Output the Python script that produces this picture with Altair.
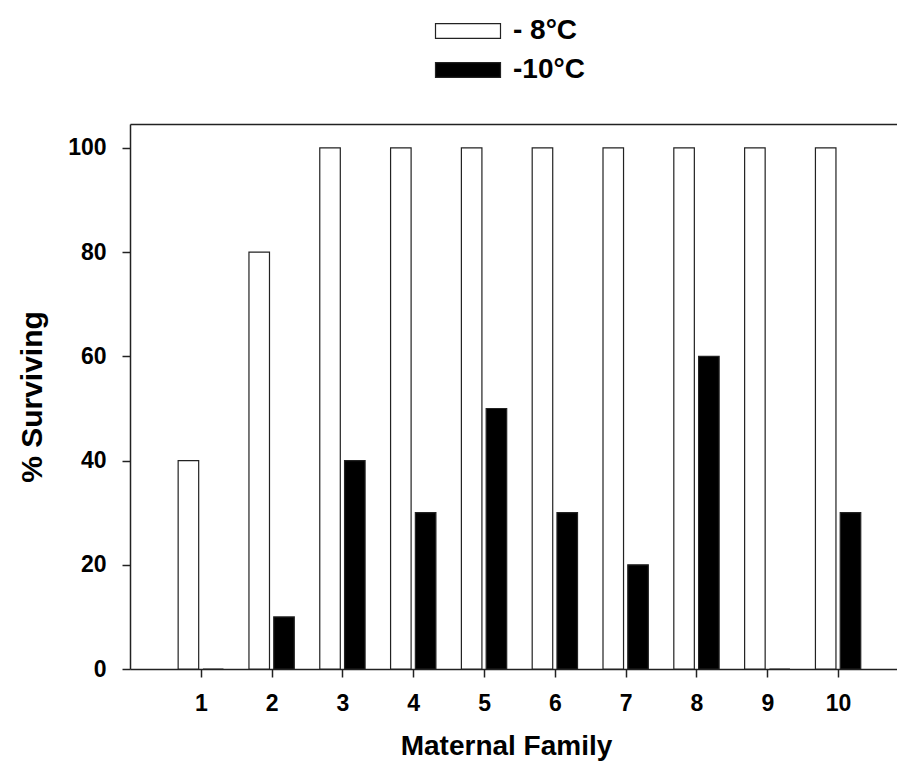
import altair as alt
import pandas as pd

families = [1, 2, 3, 4, 5, 6, 7, 8, 9, 10]
series_names = ["- 8°C", "-10°C"]
surv_minus8 = [40, 80, 100, 100, 100, 100, 100, 100, 100, 100]
surv_minus10 = [0, 10, 40, 30, 50, 30, 20, 60, 0, 30]
y_ticks = [0, 20, 40, 60, 80, 100]

rows = []
for f, a, b in zip(families, surv_minus8, surv_minus10):
    rows.append({"family": f, "series": series_names[0], "value": a})
    rows.append({"family": f, "series": series_names[1], "value": b})
df = pd.DataFrame(rows)

FONT = "Liberation Sans"
xscale = alt.Scale(domain=[0, 10.832], nice=False, zero=False)
yscale = alt.Scale(domain=[0, 104.6], nice=False)

base = alt.Chart(df).transform_calculate(
    x0=f"datum.series == '{series_names[0]}' ? datum.family - 0.32 : datum.family + 0.03",
    x1=f"datum.series == '{series_names[0]}' ? datum.family - 0.03 : datum.family + 0.32",
)

bars = base.mark_bar(stroke="#222", strokeWidth=1.2).encode(
    x=alt.X("x0:Q", scale=xscale,
            axis=alt.Axis(values=families, format="d", title="Maternal Family",
                          titlePadding=17, labelPadding=15, titleX=376)),
    x2="x1:Q",
    y=alt.Y("value:Q", scale=yscale,
            axis=alt.Axis(values=y_ticks, format="d", title="% Surviving",
                          titlePadding=20, labelPadding=16, titleFontSize=30)),
    y2=alt.datum(0),
    fill=alt.Fill("series:N",
                  scale=alt.Scale(domain=series_names, range=["white", "black"]),
                  legend=alt.Legend(title=None, orient="none", legendX=321, legendY=-110,
                                    direction="vertical",
                                    symbolType="M-2,-0.46H2V0.46H-2Z",
                                    symbolSize=1056,
                                    symbolStrokeColor="#222", symbolStrokeWidth=1.2,
                                    labelFontSize=28, labelFont=FONT, labelFontWeight="bold",
                                    labelColor="black", labelOffset=28, rowPadding=8)),
)

top_line = base.mark_bar(opacity=0).encode(
    x=alt.X("x0:Q", scale=xscale,
            axis=alt.Axis(orient="top", labels=False, ticks=False, title=None, domain=True)),
    x2="x1:Q",
    y=alt.Y("value:Q", scale=yscale),
    y2=alt.datum(0),
)

chart = alt.layer(bars, top_line).resolve_axis(x="independent").properties(
    width=767, height=545,
    autosize=alt.AutoSizeParams(type="none"),
    padding={"left": 130, "top": 124, "right": 0, "bottom": 93},
).configure_view(
    stroke=None
).configure_axis(
    grid=False,
    domainColor="#222", domainWidth=1.5,
    tickColor="#222", tickWidth=1.5, tickSize=8,
    labelFont=FONT, labelFontSize=23, labelFontWeight="bold", labelColor="black",
    titleFont=FONT, titleFontSize=28, titleFontWeight="bold", titleColor="black",
)

chart.save("out.html", embed_options={"renderer": "svg", "actions": False})
